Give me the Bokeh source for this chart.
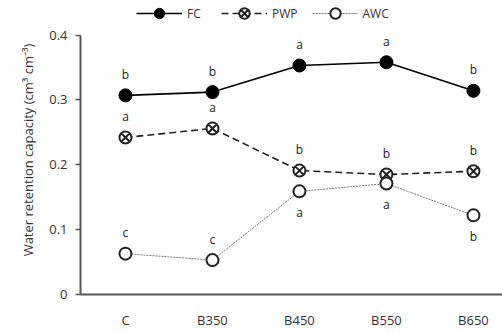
from bokeh.plotting import figure
from bokeh.models import (ColumnDataSource, Legend, LegendItem, FixedTicker,
                          Title)
from bokeh.core.properties import value
from bokeh.embed import file_html
from bokeh.resources import INLINE

# Treatments and measured water retention (cm3 cm-3)
treatments = ["C", "B350", "B450", "B550", "B650"]
fc = [0.307, 0.312, 0.353, 0.358, 0.314]
pwp = [0.242, 0.256, 0.191, 0.185, 0.190]
awc = [0.063, 0.053, 0.159, 0.171, 0.122]

# Significance letters and whether they sit above (1) or below (-1) the point
fc_letters = ["b", "b", "a", "a", "b"]
fc_side = [1, 1, 1, 1, 1]
pwp_letters = ["a", "a", "b", "b", "b"]
pwp_side = [1, 1, 1, 1, 1]
awc_letters = ["c", "c", "a", "a", "b"]
awc_side = [1, 1, -1, -1, -1]

y_ticks = [0, 0.1, 0.2, 0.3, 0.4]
y_title = "Water retention capacity (cm³ cm⁻³)"

FONT = "Open Sans"
INK = "#333333"
xs = list(range(len(treatments)))
X0, X1 = -0.517, 4.334

# headroom above 0.4 holds the legend; the y axis line stops at 0.4
p = figure(width=502, height=331, output_backend="svg", toolbar_location=None,
           x_range=(X0, X1), y_range=(0, 0.4455),
           min_border_left=80, min_border_right=0, min_border_top=5,
           min_border_bottom=32)
p.outline_line_color = None
p.xgrid.visible = False
p.ygrid.visible = False
p.background_fill_color = "white"

# Axes
p.yaxis.ticker = FixedTicker(ticks=y_ticks)
p.yaxis.bounds = (0, 0.4)
p.yaxis.major_label_overrides = {0: "0", 0.1: "0.1", 0.2: "0.2", 0.3: "0.3", 0.4: "0.4"}
p.yaxis.minor_tick_line_color = None
p.yaxis.major_tick_in = 0
p.yaxis.major_tick_out = 5

p.xaxis.ticker = FixedTicker(ticks=xs)
p.xaxis.major_label_overrides = {i: t for i, t in enumerate(treatments)}
p.xaxis.minor_tick_line_color = None
p.xaxis.major_label_standoff = 10

for ax in (p.xaxis, p.yaxis):
    ax.axis_line_color = "#555555"
    ax.axis_line_width = 2
    ax.major_tick_line_width = 1.5
    ax.major_label_text_font = FONT
    ax.major_label_text_font_size = "13px"
    ax.major_label_text_color = INK
p.yaxis.major_tick_line_color = "#555555"
p.xaxis.major_tick_line_color = None
p.yaxis.major_label_standoff = 8

# y axis title, shifted so it is centred on the 0-0.4 span of the axis
p.add_layout(Title(text=y_title, align="center", offset=25, standoff=20,
                   text_font=FONT, text_font_size="13px",
                   text_font_style="normal", text_color=INK), "left")

# Series
r_fc_l = p.line(xs, fc, line_color="black", line_width=1.6)
r_fc_m = p.scatter(xs, fc, marker="circle", size=13, fill_color="black",
                   line_color="black")

r_pwp_l = p.line(xs, pwp, line_color="#222222", line_width=1.6, line_dash="7 4")
r_pwp_m = p.scatter(xs, pwp, marker="circle_x", size=12, fill_color="white",
                    line_color="#222222", line_width=2)

r_awc_l = p.line(xs, awc, line_color="#777777", line_width=1, line_dash="2 1")
r_awc_m = p.scatter(xs, awc, marker="circle", size=12, fill_color="white",
                    line_color="#222222", line_width=2)

# Significance letters
for vals, letters, side in ((fc, fc_letters, fc_side),
                            (pwp, pwp_letters, pwp_side),
                            (awc, awc_letters, awc_side)):
    src = ColumnDataSource(dict(x=xs, y=vals, t=letters,
                                off=[-21 * s for s in side]))
    p.text(x="x", y="y", text="t", y_offset="off", source=src,
           text_align="center", text_baseline="middle",
           text_font=value(FONT), text_font_size="12px", text_color="#222222")

legend = Legend(items=[
    LegendItem(label="FC", renderers=[r_fc_l, r_fc_m]),
    LegendItem(label="PWP", renderers=[r_pwp_l, r_pwp_m]),
    LegendItem(label="AWC", renderers=[r_awc_l, r_awc_m]),
], orientation="horizontal", location=(56, 268))
legend.glyph_width = 46
legend.glyph_height = 26
legend.label_standoff = 5
legend.spacing = 14
legend.padding = 0
legend.margin = 0
legend.border_line_color = None
legend.background_fill_alpha = 0
legend.label_text_font = FONT
legend.label_text_font_size = "12px"
legend.label_text_color = INK
p.add_layout(legend)

open("out.html", "w").write(file_html(p, INLINE))
